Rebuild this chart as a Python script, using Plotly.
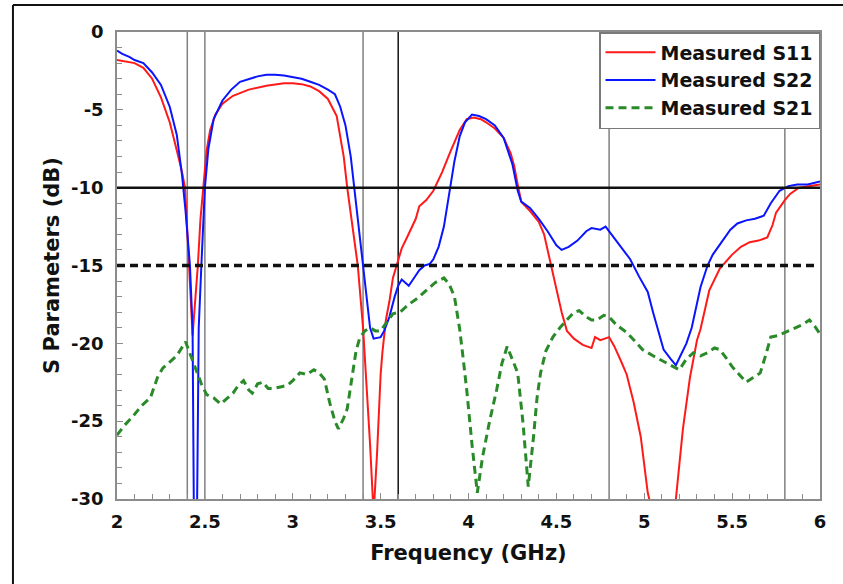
import plotly.graph_objects as go

# Measured S11 (dB) vs frequency (GHz)
f_s11 = [2.0, 2.05, 2.1, 2.15, 2.2, 2.25, 2.3, 2.34, 2.37, 2.387, 2.40, 2.41, 2.43, 2.445, 2.46,
         2.475, 2.49, 2.51, 2.53, 2.56, 2.6, 2.66, 2.75, 2.85, 2.95, 3.0, 3.05, 3.1, 3.15, 3.2,
         3.25, 3.29, 3.31, 3.34, 3.37, 3.40, 3.42, 3.44, 3.46, 3.48, 3.50, 3.51, 3.53, 3.55,
         3.57, 3.59, 3.62, 3.65, 3.70, 3.72, 3.76, 3.80, 3.85, 3.90, 3.95, 3.99, 4.03, 4.07,
         4.10, 4.15, 4.20, 4.24, 4.26, 4.28, 4.30, 4.35, 4.40, 4.43, 4.47, 4.50, 4.53, 4.56,
         4.60, 4.65, 4.70, 4.72, 4.75, 4.80, 4.83, 4.87, 4.90, 4.94, 4.98, 5.02, 5.05, 5.10,
         5.15, 5.18, 5.22, 5.26, 5.30, 5.32, 5.37, 5.43, 5.50, 5.55, 5.60, 5.65, 5.70, 5.73,
         5.75, 5.80, 5.83, 5.88, 5.93, 6.0]
s11 = [-1.8, -1.9, -2.0, -2.3, -3.0, -4.2, -5.8, -7.6, -9.0, -10.0, -12.5, -15.0, -19.5, -17.5, -15.0,
       -12.0, -10.0, -7.6, -6.3, -5.3, -4.6, -4.1, -3.7, -3.45, -3.3, -3.3, -3.35, -3.5, -3.8, -4.3,
       -5.4, -8.0, -10.0, -12.5, -15.0, -19.0, -22.5, -26.5, -31.0, -27.0, -22.0, -20.6, -18.5, -17.3,
       -15.8, -15.0, -13.9, -13.2, -12.0, -11.2, -10.8, -10.2, -9.0, -7.6, -6.3, -5.6, -5.5, -5.6,
       -5.8, -6.2, -6.8, -7.8, -8.6, -9.8, -10.9, -11.5, -12.2, -13.0, -15.0, -16.4, -18.0, -19.2,
       -19.7, -20.1, -20.3, -19.6, -19.8, -19.6, -20.2, -21.2, -22.0, -23.8, -26.0, -29.6, -31.0, -34.0,
       -34.0, -30.0, -25.5, -22.2, -19.8, -19.1, -16.6, -15.2, -14.3, -13.8, -13.5, -13.4, -13.2, -12.4,
       -11.6, -10.8, -10.4, -10.0, -9.9, -9.8]

# Measured S22 (dB)
f_s22 = [2.0, 2.03, 2.07, 2.1, 2.15, 2.2, 2.25, 2.3, 2.34, 2.37, 2.39, 2.415, 2.43, 2.44, 2.452,
         2.465, 2.48, 2.5, 2.52, 2.55, 2.6, 2.65, 2.7, 2.75, 2.8, 2.85, 2.9, 2.95, 3.0, 3.05, 3.1,
         3.15, 3.2, 3.24, 3.27, 3.3, 3.33, 3.35, 3.38, 3.4, 3.42, 3.44, 3.46, 3.5, 3.52, 3.55,
         3.58, 3.6, 3.62, 3.66, 3.69, 3.72, 3.75, 3.78, 3.8, 3.83, 3.86, 3.89, 3.92, 3.95, 3.98,
         4.02, 4.06, 4.1, 4.15, 4.2, 4.25, 4.28, 4.3, 4.35, 4.4, 4.45, 4.5, 4.53, 4.57, 4.62,
         4.67, 4.7, 4.75, 4.78, 4.82, 4.87, 4.92, 4.97, 5.02, 5.05, 5.08, 5.11, 5.15, 5.18, 5.21,
         5.24, 5.27, 5.3, 5.32, 5.36, 5.39, 5.44, 5.49, 5.53, 5.58, 5.63, 5.68, 5.72, 5.77, 5.82,
         5.87, 5.93, 6.0]
s22 = [-1.2, -1.4, -1.6, -1.8, -2.0, -2.6, -3.4, -4.8, -6.6, -9.2, -11.5, -15.0, -19.0, -35.0, -35.0,
       -19.0, -15.0, -10.0, -7.5, -5.6, -4.4, -3.7, -3.2, -3.0, -2.85, -2.75, -2.75, -2.8, -2.9, -3.0, -3.2,
       -3.4, -3.7, -4.0, -4.8, -6.0, -8.0, -10.0, -13.0, -15.0, -17.0, -19.0, -19.7, -19.6, -19.2, -18.3,
       -17.0, -16.3, -15.9, -16.3, -15.8, -15.3, -15.0, -14.9, -14.6, -13.8, -12.5, -10.3, -8.3, -6.7, -5.8,
       -5.3, -5.4, -5.6, -6.0, -6.8, -8.5, -10.2, -10.9, -11.3, -12.0, -12.8, -13.7, -14.0, -13.8, -13.4,
       -12.8, -12.6, -12.7, -12.5, -13.1, -13.9, -14.6, -15.7, -16.7, -18.0, -19.2, -20.4, -21.0, -21.4, -20.7,
       -20.0, -19.0, -17.3, -16.4, -15.0, -14.3, -13.5, -12.7, -12.3, -12.1, -12.0, -11.8, -11.0, -10.2, -9.9,
       -9.8, -9.8, -9.6]

# Measured S21 (dB)
f_s21 = [2.0, 2.04, 2.09, 2.14, 2.19, 2.23, 2.26, 2.3, 2.34, 2.39, 2.42, 2.45, 2.48, 2.51, 2.55,
         2.59, 2.63, 2.66, 2.69, 2.72, 2.75, 2.77, 2.8, 2.83, 2.86, 2.89, 2.93, 2.97, 3.0, 3.04,
         3.08, 3.12, 3.15, 3.18, 3.21, 3.24, 3.26, 3.29, 3.31, 3.34, 3.36, 3.38, 3.41, 3.44, 3.47,
         3.5, 3.54, 3.57, 3.61, 3.66, 3.71, 3.76, 3.81, 3.86, 3.89, 3.92, 3.95, 3.97, 3.99, 4.02,
         4.05, 4.08, 4.12, 4.16, 4.19, 4.22, 4.25, 4.28, 4.31, 4.34, 4.37, 4.39, 4.41, 4.44, 4.48,
         4.52, 4.56, 4.6, 4.63, 4.67, 4.7, 4.73, 4.77, 4.8, 4.84, 4.9, 4.95, 4.99, 5.05, 5.1,
         5.15, 5.2, 5.24, 5.28, 5.32, 5.36, 5.4, 5.43, 5.47, 5.5, 5.54, 5.58, 5.62, 5.66, 5.69,
         5.72, 5.76, 5.8, 5.85, 5.9, 5.94, 5.97, 6.0]
s21 = [-25.9, -25.3, -24.7, -24.0, -23.5, -22.2, -21.6, -21.2, -20.8, -19.9, -20.8, -21.6, -22.6, -23.3, -23.5,
       -23.9, -23.5, -23.2, -22.7, -22.4, -23.0, -23.2, -22.6, -22.5, -22.9, -22.9, -22.8, -22.7, -22.4, -21.9,
       -22.0, -21.7, -21.9, -22.3, -23.8, -25.0, -25.5, -24.8, -24.2, -21.8, -20.5, -19.7, -19.2, -19.0, -19.2,
       -19.2, -18.6, -18.1, -18.0, -17.5, -17.1, -16.6, -16.1, -15.8, -16.2, -17.0, -19.1, -21.0, -23.0, -26.5,
       -29.6, -27.3, -25.0, -23.0, -21.3, -20.2, -21.0, -21.9, -25.1, -29.2, -26.0, -23.5, -21.9, -20.5, -19.6,
       -19.0, -18.5, -18.0, -17.9, -18.3, -18.5, -18.5, -18.2, -18.3, -18.8, -19.3, -19.9, -20.4, -20.8, -21.1,
       -21.4, -21.7, -21.0, -20.6, -20.8, -20.6, -20.3, -20.4, -21.0, -21.5, -22.0, -22.5, -22.2, -21.9, -20.8,
       -19.6, -19.5, -19.3, -19.0, -18.8, -18.5, -18.9, -19.4]

# Band-edge marker frequencies (GHz) and reference levels (dB)
grey_markers = [2.4, 2.5, 3.4, 4.8, 5.8]
black_markers = [3.6]
level_solid = -10
level_dashed = -15

x_ticks = [2, 2.5, 3, 3.5, 4, 4.5, 5, 5.5, 6]
x_tick_text = ["2", "2.5", "3", "3.5", "4", "4.5", "5", "5.5", "6"]
y_ticks = [0, -5, -10, -15, -20, -25, -30]
y_tick_text = ["0", "-5", "-10", "-15", "-20", "-25", "-30"]

FONT = "DejaVu Sans"

fig = go.Figure()
fig.add_trace(go.Scatter(x=f_s11, y=s11, mode="lines", name="<b>Measured S11</b>",
                         line=dict(color="#ff1a1a", width=2)))
fig.add_trace(go.Scatter(x=f_s22, y=s22, mode="lines", name="<b>Measured S22</b>",
                         line=dict(color="#0a14ff", width=2)))
fig.add_trace(go.Scatter(x=f_s21, y=s21, mode="lines", name="<b>Measured S21</b>",
                         line=dict(color="#2a8a2a", width=3, dash="8px,5px")))

shapes = []
for xv in grey_markers:
    shapes.append(dict(type="line", xref="x", yref="paper", x0=xv, x1=xv, y0=0, y1=1,
                       line=dict(color="#808080", width=1.5), layer="below"))
for xv in black_markers:
    shapes.append(dict(type="line", xref="x", yref="paper", x0=xv, x1=xv, y0=0, y1=1,
                       line=dict(color="#111111", width=1.5), layer="below"))
shapes.append(dict(type="line", xref="paper", yref="y", x0=0, x1=1, y0=level_solid, y1=level_solid,
                   line=dict(color="#111111", width=2.5)))
shapes.append(dict(type="line", xref="paper", yref="y", x0=0, x1=0.995, y0=level_dashed, y1=level_dashed,
                   line=dict(color="#111111", width=3.5, dash="8px,5px")))
# outer frame: left and top edges
shapes.append(dict(type="line", xref="paper", yref="paper", x0=-0.148, x1=-0.148, y0=1.058, y1=-0.182,
                   line=dict(color="#111111", width=2)))
shapes.append(dict(type="line", xref="paper", yref="paper", x0=-0.148, x1=1.033, y0=1.058, y1=1.058,
                   line=dict(color="#111111", width=2)))

fig.update_layout(
    width=843, height=584,
    margin=dict(l=117, r=23, t=32, b=85),
    paper_bgcolor="white", plot_bgcolor="white",
    font=dict(family=FONT, color="#111111"),
    shapes=shapes,
    showlegend=True,
    legend=dict(x=1, xanchor="right", y=1, yanchor="top",
                bordercolor="#7a7a7a", borderwidth=1.5, bgcolor="white",
                font=dict(family=FONT, size=19, color="#111111"),
                itemwidth=50, tracegroupgap=0),
    xaxis=dict(range=[2, 6], tickvals=x_ticks, ticktext=x_tick_text,
               showgrid=False, zeroline=False,
               showline=True, linecolor="#8c8c8c", linewidth=1.5, mirror=True,
               ticks="inside", ticklen=6, tickcolor="#8c8c8c", tickwidth=1.2,
               minor=dict(dtick=0.1, ticks="inside", ticklen=5, tickcolor="#8c8c8c", tickwidth=1),
               tickfont=dict(family=FONT, size=18, color="#111111", weight="bold"),
               ticklabelstandoff=6,
               title=dict(text="<b>Frequency (GHz)</b>", font=dict(family=FONT, size=21, color="#111111"),
                          standoff=14)),
    yaxis=dict(range=[-30, 0], tickvals=y_ticks, ticktext=y_tick_text,
               showgrid=False, zeroline=False,
               showline=True, linecolor="#8c8c8c", linewidth=1.5, mirror=True,
               ticks="inside", ticklen=6, tickcolor="#8c8c8c", tickwidth=1.2,
               minor=dict(dtick=1, ticks="inside", ticklen=5, tickcolor="#8c8c8c", tickwidth=1),
               tickfont=dict(family=FONT, size=18, color="#111111", weight="bold"),
               ticklabelstandoff=8,
               title=dict(text="<b>S Parameters (dB)</b>", font=dict(family=FONT, size=21, color="#111111"),
                          standoff=6)),
)

fig.write_html("out.html")
